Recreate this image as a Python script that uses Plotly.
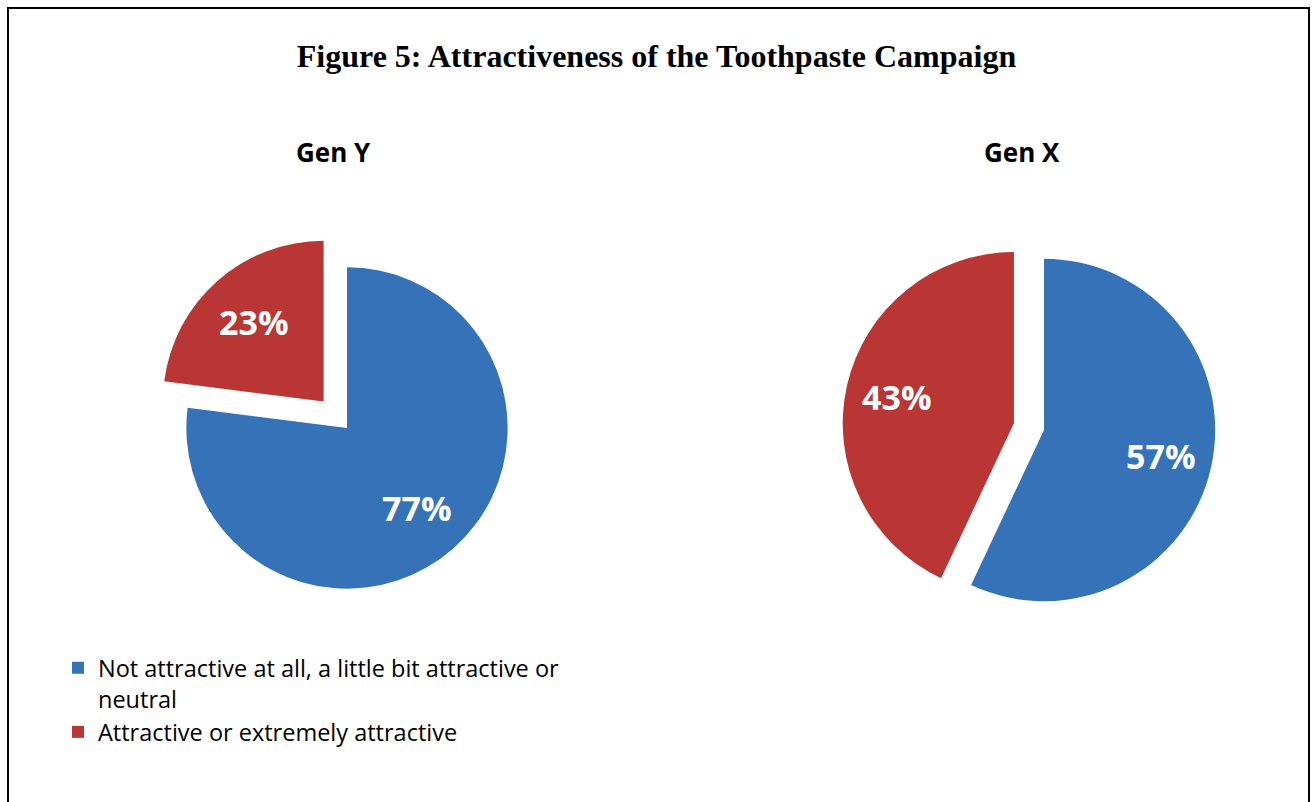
import math
import plotly.graph_objects as go

# Survey answers, in percent of respondents per generation
categories = [
    "Not attractive at all, a little bit attractive or<br>neutral",
    "Attractive or extremely attractive",
]
gen_y_values = [77, 23]
gen_x_values = [57, 43]
group_titles = ["Gen Y", "Gen X"]

BLUE = "#3672b8"
RED = "#b93634"
W, H = 1313, 802

# Pie layout: pixel centre, half-size of the square domain, exploded slice pull,
# and how far out along each slice the value label sits (fraction of radius)
pies = [
    dict(title=group_titles[0], values=gen_y_values, cx=347, cy=428, half=196,
         pull=[0, 0.22], label_r=0.66, title_x=333),
    dict(title=group_titles[1], values=gen_x_values, cx=1044, cy=430, half=202,
         pull=[0, 0.18], label_r=0.70, title_x=1022),
]


def px_domain(cx, cy, half):
    """Convert a pixel-centred square into a paper-fraction domain."""
    return dict(
        x=[(cx - half) / W, (cx + half) / W],
        y=[1 - (cy + half) / H, 1 - (cy - half) / H],
    )


fig = go.Figure()

for p in pies:
    fig.add_trace(go.Pie(
        labels=categories,
        values=p["values"],
        sort=False,
        direction="clockwise",
        rotation=0,
        pull=p["pull"],
        marker=dict(colors=[BLUE, RED], line=dict(width=0)),
        textinfo="none",
        domain=px_domain(p["cx"], p["cy"], p["half"]),
        hoverinfo="label+percent",
        name=p["title"],
    ))

    # Pie heading
    fig.add_annotation(
        text=f"<b>{p['title']}</b>", x=p["title_x"] / W, y=1 - 152 / H,
        xref="paper", yref="paper", showarrow=False,
        font=dict(family="Open Sans", size=26, color="black"),
        xanchor="center", yanchor="middle",
    )

    # Percentage labels placed along each slice's bisector
    total = sum(p["values"])
    r = p["half"] / (1 + max(p["pull"]))
    start = 0.0
    for v, pull in zip(p["values"], p["pull"]):
        frac = v / total
        mid = start + frac / 2
        ang = math.radians(90 - 360 * mid)
        dist = (pull + p["label_r"]) * r
        lx = p["cx"] + dist * math.cos(ang)
        ly = p["cy"] - dist * math.sin(ang)
        fig.add_annotation(
            text=f"<b>{round(100 * frac)}%</b>", x=lx / W, y=1 - ly / H,
            xref="paper", yref="paper", showarrow=False,
            font=dict(family="Open Sans", size=34, color="white"),
            xanchor="center", yanchor="middle",
        )
        start += frac

# Outer frame
fig.add_shape(
    type="rect", xref="paper", yref="paper",
    x0=8 / W, x1=1309 / W, y0=-0.02, y1=1 - 8 / H,
    line=dict(color="black", width=2), fillcolor="rgba(0,0,0,0)",
)

fig.update_layout(
    width=W, height=H,
    margin=dict(l=0, r=0, t=0, b=0),
    paper_bgcolor="white",
    plot_bgcolor="white",
    title=dict(
        text="<b>Figure 5: Attractiveness of the Toothpaste Campaign</b>",
        x=0.5, xanchor="center", y=1 - 56 / H, yanchor="middle",
        font=dict(family="Liberation Serif", size=32, color="black"),
    ),
    legend=dict(
        x=58 / W, y=1 - 646 / H, xanchor="left", yanchor="top",
        font=dict(family="Open Sans", size=23.5, color="black"),
        itemwidth=30, tracegroupgap=0, valign="top",
        bgcolor="rgba(0,0,0,0)",
    ),
)

fig.write_html("out.html")
